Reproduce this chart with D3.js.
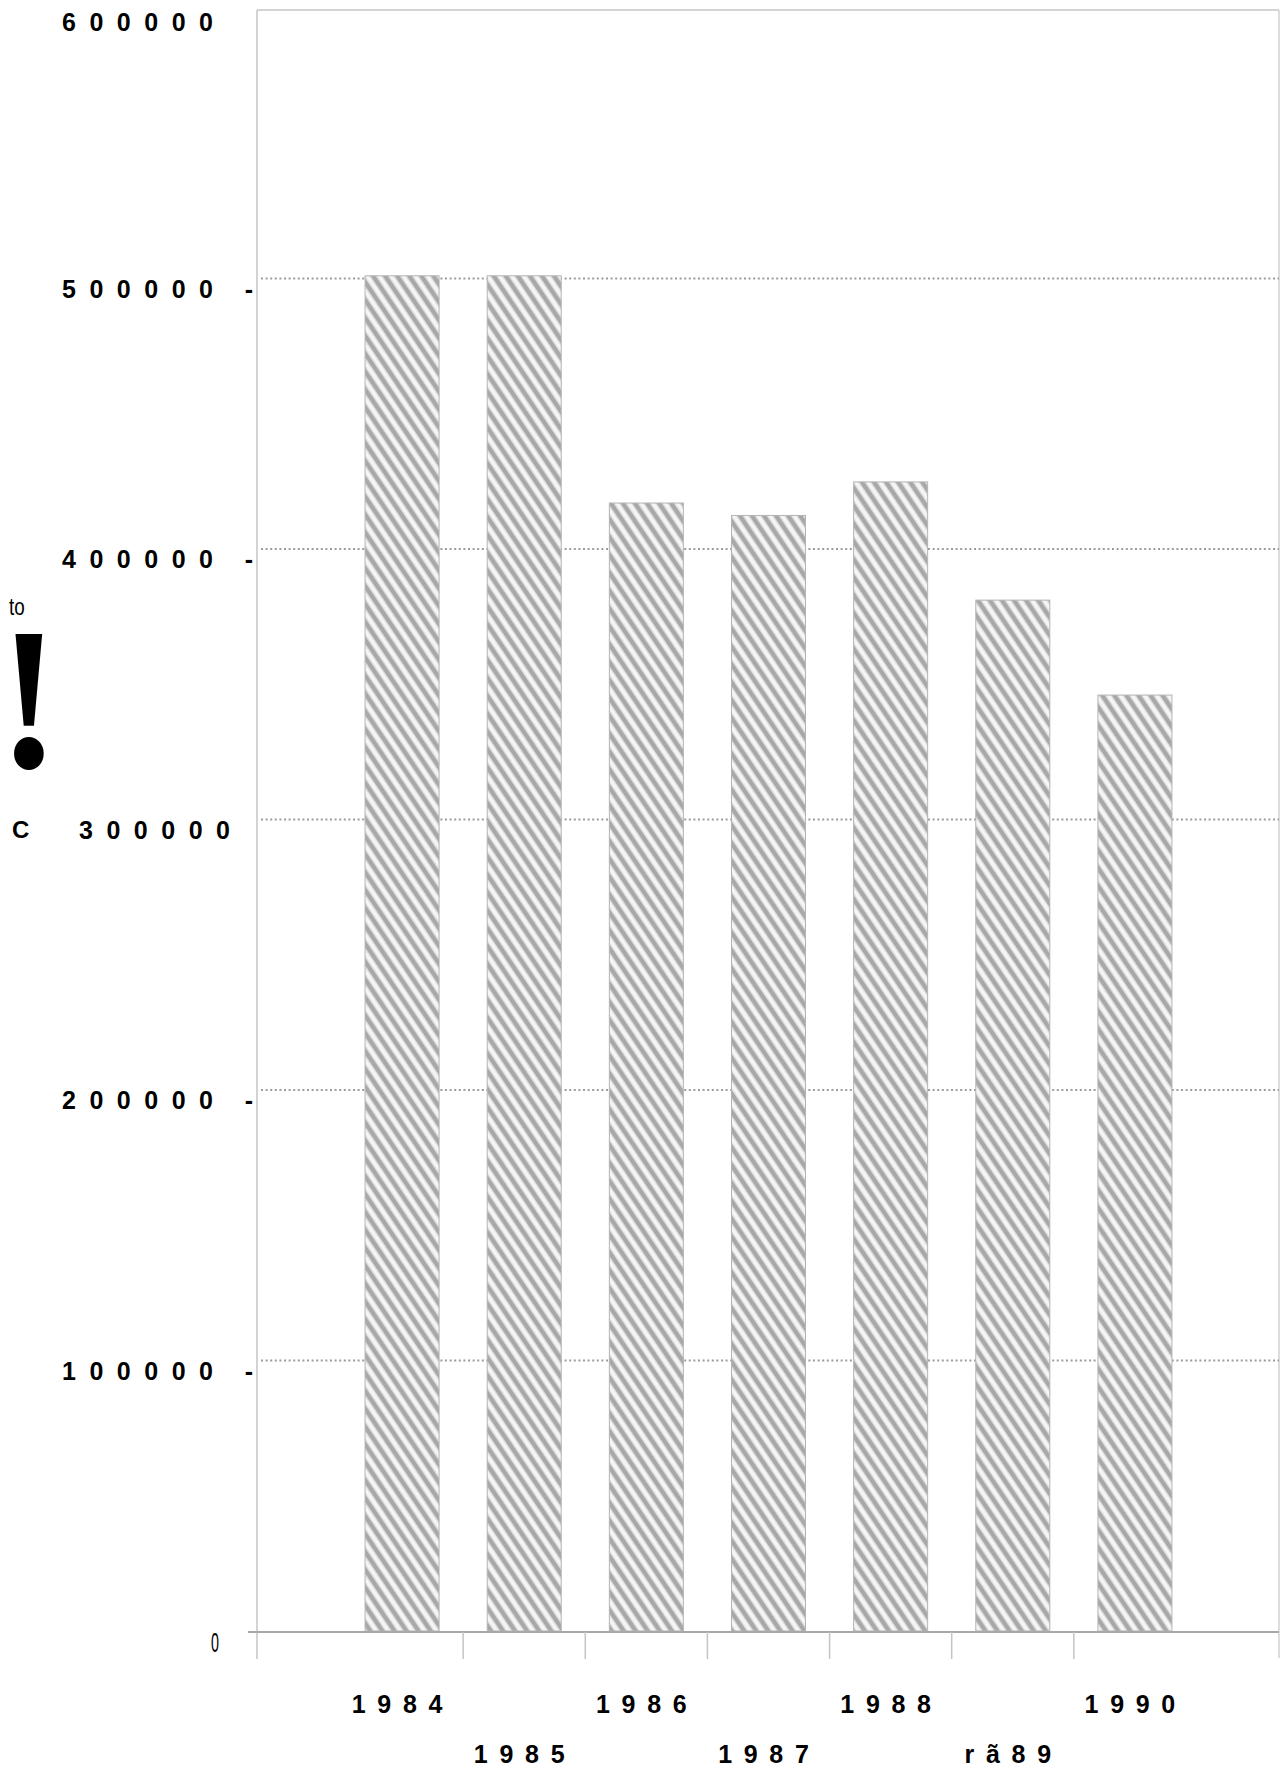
<!DOCTYPE html>
<html>
<head>
<meta charset="utf-8">
<script src="https://cdn.jsdelivr.net/npm/d3@7"></script>
<style>
  html, body { margin: 0; padding: 0; background: #fff; }
  svg { display: block; }
  text { fill: #000; }
</style>
</head>
<body>
<svg id="chart" width="1283" height="1770"></svg>
<script>
// ---- data ----
const categories = ["1984", "1985", "1986", "1987", "1988", "1989", "1990"];
const categoryLabels = ["1984", "1985", "1986", "1987", "1988", "rã89", "1990"];
const values = [501000, 501000, 417000, 412400, 424800, 381100, 346000];
const yTickValues = [0, 100000, 200000, 300000, 400000, 500000, 600000];
const yTickLabels = ["0", "100000", "200000", "300000", "400000", "500000", "600000"];
const yTitleParts = ["to", "!", "C"];

// ---- layout ----
const SANS = "'Liberation Sans', Arial, Helvetica, sans-serif";
const SERIF = "'Liberation Serif', 'Times New Roman', serif";
const svg = d3.select("#chart");
const frame = { left: 257, right: 1279, top: 10 };

const y = d3.scaleLinear().domain([0, 600000]).range([1631, 8]);
const x = d3.scaleBand().domain(categories).range([341, 1196])
  .paddingInner(0.394).paddingOuter(0.197);

// hatch pattern
const defs = svg.append("defs");
const pat = defs.append("pattern")
  .attr("id", "hatch")
  .attr("patternUnits", "userSpaceOnUse")
  .attr("width", 20).attr("height", 10)
  .attr("patternTransform", "rotate(56)");
pat.append("rect").attr("width", 20).attr("height", 10).attr("fill", "#f7f7f7");
pat.append("rect").attr("y", 2.9).attr("width", 20).attr("height", 4.2).attr("fill", "#a8a8a8");
pat.append("rect").attr("y", 1.7).attr("width", 20).attr("height", 1.2).attr("fill", "#d4d4d4");
pat.append("rect").attr("y", 7.1).attr("width", 20).attr("height", 1.2).attr("fill", "#d4d4d4");

// frame
svg.append("line").attr("x1", frame.left).attr("x2", frame.right)
  .attr("y1", frame.top).attr("y2", frame.top)
  .attr("stroke", "#c4c4c4").attr("stroke-width", 1.5);
svg.append("line").attr("x1", frame.right).attr("x2", frame.right)
  .attr("y1", frame.top).attr("y2", y(0) + 27)
  .attr("stroke", "#d2d2d2").attr("stroke-width", 1.5);
svg.append("line").attr("x1", frame.left).attr("x2", frame.left)
  .attr("y1", frame.top).attr("y2", y(0) + 28)
  .attr("stroke", "#c4c4c4").attr("stroke-width", 1.5);

// dotted gridlines
svg.append("g").selectAll("line")
  .data(yTickValues.filter(v => v > 0 && v < 600000))
  .join("line")
  .attr("x1", frame.left + 4).attr("x2", frame.right)
  .attr("y1", d => y(d)).attr("y2", d => y(d))
  .attr("stroke", "#9c9c9c").attr("stroke-width", 1.8)
  .attr("stroke-dasharray", "2,2.6");

// bars
svg.append("g").selectAll("rect")
  .data(values)
  .join("rect")
  .attr("x", (d, i) => x(categories[i]))
  .attr("width", x.bandwidth())
  .attr("y", d => y(d))
  .attr("height", d => y(0) - y(d))
  .attr("fill", "url(#hatch)")
  .attr("stroke", "#b4b4b4").attr("stroke-width", 1);

// zero line
svg.append("line").attr("x1", 248).attr("x2", frame.right)
  .attr("y1", y(0) + 1).attr("y2", y(0) + 1)
  .attr("stroke", "#a8a8a8").attr("stroke-width", 2);

// x ticks between bands
const step = x.step();
const gap = step - x.bandwidth();
svg.append("g").selectAll("line")
  .data(categories.slice(1))
  .join("line")
  .attr("x1", d => x(d) - gap / 2).attr("x2", d => x(d) - gap / 2)
  .attr("y1", y(0) + 1).attr("y2", y(0) + 28)
  .attr("stroke", "#c4c4c4").attr("stroke-width", 1.5);

// x labels (two staggered rows)
const xls = 11.7;
svg.append("g").selectAll("text")
  .data(categoryLabels)
  .join("text")
  .attr("x", (d, i) => x(categories[i]) + x.bandwidth() / 2 - 5 + xls / 2)
  .attr("y", (d, i) => i % 2 === 0 ? 1713 : 1763)
  .attr("text-anchor", "middle")
  .style("font-family", SANS)
  .attr("font-size", 25).attr("font-weight", "bold")
  .attr("letter-spacing", xls)
  .text(d => d);

// y labels
const yls = 13.5;
const yg = svg.append("g");
yTickValues.forEach((v, i) => {
  if (v === 0) {
    yg.append("text")
      .attr("transform", `translate(215,${y(0) + 21}) scale(0.55,1.05)`)
      .attr("text-anchor", "middle")
      .style("font-family", SANS)
      .attr("font-size", 26)
      .text(yTickLabels[i]);
    return;
  }
  const right = v === 300000 ? 230 : 213;
  const dy = v === 600000 ? 23 : 19;
  yg.append("text")
    .attr("x", right + yls)
    .attr("y", y(v) + dy)
    .attr("text-anchor", "end")
    .style("font-family", SANS)
    .attr("font-size", 25).attr("font-weight", "bold")
    .attr("letter-spacing", yls)
    .text(yTickLabels[i]);
  if (v !== 300000 && v !== 600000) {
    yg.append("text")
      .attr("x", 249).attr("y", y(v) + 19)
      .attr("text-anchor", "middle")
      .style("font-family", SANS)
      .attr("font-size", 25).attr("font-weight", "bold")
      .text("-");
  }
});

// stray y-axis title fragments
svg.append("text")
  .attr("transform", "translate(9,615) scale(0.82,1.05)")
  .style("font-family", SANS)
  .attr("font-size", 23)
  .text(yTitleParts[0]);
svg.append("text")
  .attr("transform", "translate(29,767) scale(1.22,1.35)")
  .attr("text-anchor", "middle")
  .style("font-family", SERIF)
  .attr("font-weight", "bold")
  .attr("font-size", 150)
  .text(yTitleParts[1]);
svg.append("text")
  .attr("x", 12).attr("y", 838)
  .style("font-family", SANS)
  .attr("font-size", 24).attr("font-weight", "bold")
  .text(yTitleParts[2]);
</script>
</body>
</html>
